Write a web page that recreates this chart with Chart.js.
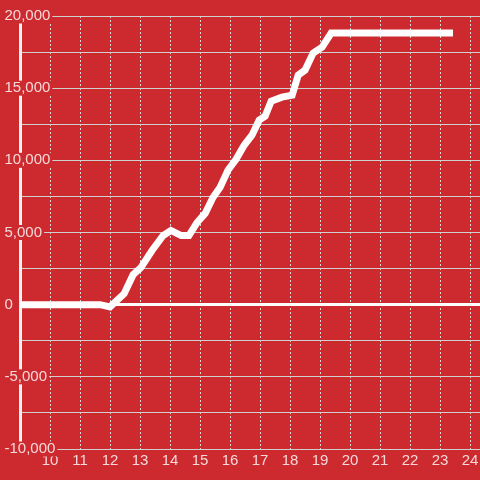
<!DOCTYPE html>
<html>
<head>
<meta charset="utf-8">
<script src="https://cdn.jsdelivr.net/npm/chart.js@4/dist/chart.umd.min.js"></script>
<style>
  html, body { margin: 0; padding: 0; background: #cc2a2f; }
  canvas { display: block; }
</style>
</head>
<body>
<canvas id="chart" width="480" height="480"></canvas>
<script>
const xValues = [8, 11.67, 12.0, 12.47, 12.77, 13.03, 13.4, 13.77, 14.03, 14.37, 14.63, 14.9, 15.17, 15.43, 15.67, 15.93, 16.2, 16.47, 16.73, 16.97, 17.17, 17.37, 17.73, 18.07, 18.27, 18.5, 18.77, 19.07, 19.37, 21.83, 23.43];
const yValues = [0, 0, -150, 760, 2080, 2570, 3750, 4790, 5140, 4790, 4790, 5690, 6320, 7430, 8130, 9310, 10070, 11040, 11740, 12780, 13060, 14100, 14380, 14510, 15900, 16250, 17430, 17850, 18820, 18820, 18820];

const xTicks = [10, 11, 12, 13, 14, 15, 16, 17, 18, 19, 20, 21, 22, 23, 24];
const yTicks = [-10000, -7500, -5000, -2500, 0, 2500, 5000, 7500, 10000, 12500, 15000, 17500, 20000];
const yLabelStep = 5000;

const red = "#cc2a2f";
const labelColor = "rgba(255,255,255,0.82)";
const tickFont = { family: "'Liberation Sans', Arial, sans-serif", size: 15, lineHeight: 1 };

const points = xValues.map((x, i) => ({ x, y: yValues[i] }));

new Chart(document.getElementById("chart"), {
    type: "line",
    data: {
        datasets: [
            {
                data: points,
                borderColor: "#ffffff",
                borderWidth: 7,
                pointRadius: 0,
                tension: 0,
                borderJoinStyle: "miter",
                borderCapStyle: "butt"
            }
        ]
    },
    options: {
        responsive: false,
        animation: false,
        devicePixelRatio: 1,
        layout: {
            padding: { left: 20, top: 16, right: 0, bottom: 8 }
        },
        plugins: {
            legend: { display: false },
            tooltip: { enabled: false }
        },
        scales: {
            x: {
                type: "linear",
                min: 9,
                max: 24.33,
                afterBuildTicks: (scale) => {
                    scale.ticks = xTicks.map((v) => ({ value: v }));
                },
                afterFit: (scale) => {
                    scale.paddingRight = 0;
                    scale.paddingLeft = 0;
                },
                grid: {
                    color: "#d8d8d8",
                    lineWidth: 1,
                    drawTicks: false
                },
                border: { display: false, dash: [2, 2] },
                ticks: {
                    color: labelColor,
                    font: tickFont,
                    padding: 4,
                    maxRotation: 0,
                    autoSkip: false
                }
            },
            y: {
                type: "linear",
                min: -10000,
                max: 20000,
                afterBuildTicks: (scale) => {
                    scale.ticks = yTicks.map((v) => ({ value: v }));
                },
                afterFit: (scale) => {
                    scale.width = 0;
                },
                grid: {
                    color: (ctx) => (ctx.tick && ctx.tick.value === 0 ? "#ffffff" : "#cfcfcf"),
                    lineWidth: (ctx) => (ctx.tick && ctx.tick.value === 0 ? 3 : 1),
                    drawTicks: false
                },
                border: { display: true, color: "#f2f2f2", width: 3 },
                ticks: {
                    mirror: true,
                    crossAlign: "near",
                    padding: -15.5,
                    color: labelColor,
                    font: tickFont,
                    autoSkip: false,
                    showLabelBackdrop: (ctx) => ctx.tick.value % yLabelStep === 0,
                    backdropColor: red,
                    backdropPadding: { x: 2, y: 0 },
                    callback: (v) => (v % yLabelStep === 0 ? v.toLocaleString("en-US") : "")
                }
            }
        }
    }
});
</script>
</body>
</html>
